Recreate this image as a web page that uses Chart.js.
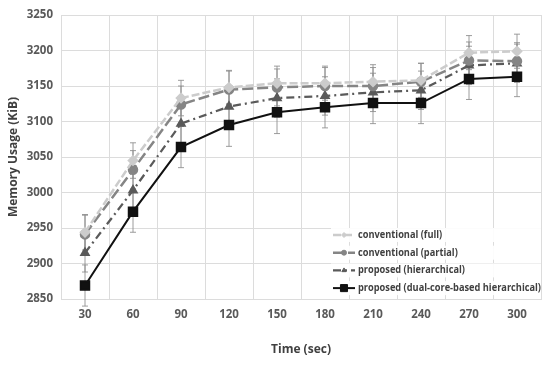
<!DOCTYPE html>
<html>
<head>
<meta charset="utf-8">
<script src="https://cdn.jsdelivr.net/npm/chart.js@4/dist/chart.umd.min.js"></script>
<style>
  html, body { margin: 0; padding: 0; background: #fff; }
  #wrap { width: 550px; height: 365px; }
</style>
</head>
<body>
<div id="wrap"><canvas id="main-chart" width="550" height="365"></canvas></div>
<script>
const times = ['30', '60', '90', '120', '150', '180', '210', '240', '270', '300'];
const yTicks = [2850, 2900, 2950, 3000, 3050, 3100, 3150, 3200, 3250];

const seriesNames = [
    'conventional (full)',
    'conventional (partial)',
    'proposed (hierarchical)',
    'proposed (dual-core-based hierarchical)'
];

const fullValues    = [2944, 3045, 3133, 3148, 3154, 3154, 3156, 3158, 3197, 3199];
const partialValues = [2941, 3032, 3124, 3145, 3148, 3150, 3150, 3156, 3186, 3185];
const hierValues    = [2915, 3003, 3097, 3121, 3133, 3136, 3141, 3144, 3179, 3182];
const dualValues    = [2869, 2973, 3064, 3095, 3113, 3120, 3126, 3126, 3160, 3163];

const fullErr    = [25, 25, 25, 24, 24, 24, 24, 24, 24, 24];
const partialErr = [27, 27, 26, 26, 26, 26, 26, 26, 26, 26];
const hierErr    = [27, 27, 27, 27, 27, 27, 27, 27, 27, 27];
const dualErr    = [29, 29, 29, 30, 30, 29, 29, 29, 29, 28];

// draws the vertical error bars through the chart's own scales
const errorBars = {
    id: 'errorBars',
    beforeDatasetsDraw(chart) {
        const ctx = chart.ctx;
        const y = chart.scales.y;
        ctx.save();
        ctx.strokeStyle = 'rgba(140,140,140,0.85)';
        ctx.lineWidth = 1;
        chart.data.datasets.forEach((ds, i) => {
            const meta = chart.getDatasetMeta(i);
            meta.data.forEach((pt, j) => {
                const e = ds.errors[j];
                const top = y.getPixelForValue(ds.data[j] + e);
                const bot = y.getPixelForValue(ds.data[j] - e);
                ctx.beginPath();
                ctx.moveTo(pt.x, top); ctx.lineTo(pt.x, bot);
                ctx.moveTo(pt.x - 3, top); ctx.lineTo(pt.x + 3, top);
                ctx.moveTo(pt.x - 3, bot); ctx.lineTo(pt.x + 3, bot);
                ctx.stroke();
            });
        });
        ctx.restore();
    }
};

// legend drawn inside the plot area, lower right
const innerLegend = {
    id: 'innerLegend',
    afterDraw(chart) {
        const ctx = chart.ctx;
        const x0 = 333, y0 = 235, step = 17.7;
        ctx.save();
        ctx.font = 'bold 10.5px "Open Sans"';
        ctx.textBaseline = 'middle';
        // the reference uses a narrower face; squeeze text so the longest label ends at the plot edge
        const squeeze = Math.min(1, 183 / ctx.measureText(seriesNames[3]).width);
        chart.data.datasets.forEach((ds, i) => {
            const yy = y0 + i * step;
            ctx.fillStyle = 'rgba(255,255,255,0.9)';
            ctx.fillRect(x0 - 2, yy - 7, 210, 14);
            ctx.strokeStyle = ds.borderColor;
            ctx.lineWidth = ds.borderWidth;
            ctx.setLineDash(ds.borderDash || []);
            ctx.beginPath();
            ctx.moveTo(x0, yy); ctx.lineTo(x0 + 22, yy);
            ctx.stroke();
            ctx.setLineDash([]);
            ctx.fillStyle = ds.borderColor;
            ctx.lineWidth = 1;
            Chart.helpers.drawPoint(ctx, {
                pointStyle: ds.pointStyle,
                radius: ds.legendRadius,
                borderWidth: 1
            }, x0 + 11, yy);
            ctx.fillStyle = '#404040';
            const w = ctx.measureText(seriesNames[i]).width * squeeze;
            ctx.fillText(seriesNames[i], x0 + 25, yy, w);
        });
        ctx.restore();
    }
};

function line(label, data, errors, color, width, dash, style, radius, legendRadius) {
    return {
        label: label,
        data: data,
        errors: errors,
        borderColor: color,
        backgroundColor: color,
        pointBackgroundColor: color,
        pointBorderColor: color,
        borderWidth: width,
        borderDash: dash,
        pointStyle: style,
        pointRadius: radius,
        pointHoverRadius: radius,
        legendRadius: legendRadius,
        tension: 0
    };
}

const data = {
    labels: times,
    datasets: [
        line(seriesNames[0], fullValues, fullErr, '#cccccc', 2.5, [8, 3], 'rectRot', 4, 2.5),
        line(seriesNames[1], partialValues, partialErr, '#858585', 2.5, [11, 4], 'circle', 4, 2.5),
        line(seriesNames[2], hierValues, hierErr, '#5a5a5a', 2.25, [8, 4, 2, 4], 'triangle', 4, 2.5),
        line(seriesNames[3], dualValues, dualErr, '#111111', 2, [], 'rect', 6, 5)
    ]
};

const tickFont = { family: '"Open Sans"', size: 11.5, weight: 'bold' };

const config = {
    type: 'line',
    data: data,
    plugins: [errorBars, innerLegend],
    options: {
        responsive: false,
        animation: false,
        layout: { padding: { top: 15, right: 9, left: 0, bottom: 0 } },
        plugins: { legend: { display: false }, tooltip: { enabled: false } },
        scales: {
            x: {
                offset: true,
                grid: { offset: true, color: '#dcdcdc', drawTicks: false },
                border: { color: '#dcdcdc' },
                ticks: { color: '#595959', font: tickFont, padding: 9, maxRotation: 0 },
                title: {
                    display: true, text: 'Time (sec)', color: '#404040',
                    font: { family: '"Open Sans"', size: 12, weight: 'bold' },
                    padding: { top: 0, bottom: 8 }
                },
                afterFit(s) { s.height = 66; }
            },
            y: {
                min: 2850, max: 3250,
                afterBuildTicks(s) { s.ticks = yTicks.map(v => ({ value: v })); },
                grid: { color: '#dcdcdc', drawTicks: false },
                border: { color: '#dcdcdc' },
                ticks: { color: '#595959', font: tickFont, padding: 8, callback: v => String(v) },
                title: {
                    display: true, text: 'Memory Usage (KiB)', color: '#404040',
                    font: { family: '"Open Sans"', size: 12, weight: 'bold' },
                    padding: { top: 6, bottom: 0 }
                },
                afterFit(s) { s.width = 61; }
            }
        }
    }
};

const myChart = new Chart(document.getElementById('main-chart'), config);
</script>
</body>
</html>
